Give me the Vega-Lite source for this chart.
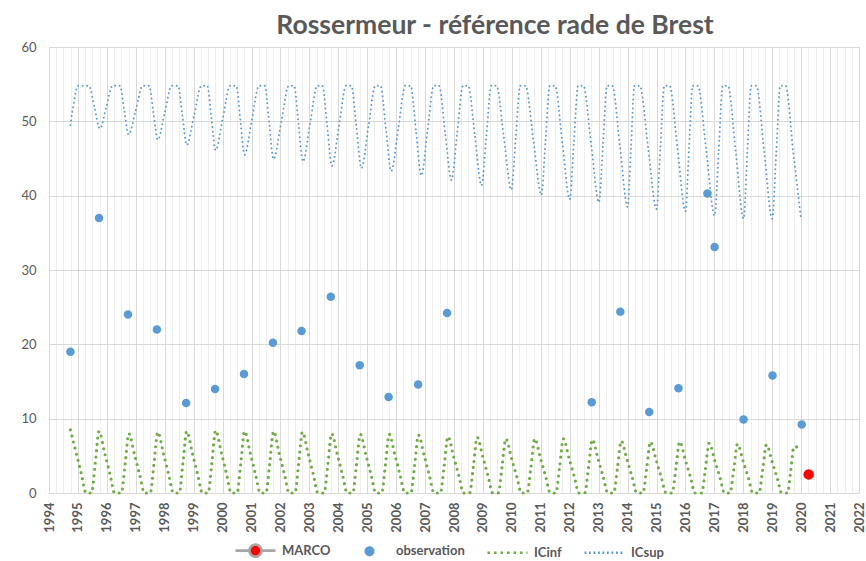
{
  "$schema": "https://vega.github.io/schema/vega-lite/v6.json",
  "width": 810,
  "height": 446,
  "autosize": {"type": "none"},
  "padding": {"left": 49, "top": 47, "right": 7, "bottom": 68},
  "background": "white",
  "config": {
    "view": {"stroke": null},
    "font": "Lato",
    "legend": {
      "title": null,
      "orient": "none",
      "legendX": 185,
      "legendY": 482,
      "direction": "horizontal",
      "columns": 4,
      "columnPadding": 17,
      "symbolSize": 1600,
      "symbolStrokeWidth": 2.6,
      "symbolOpacity": 1,
      "labelFont": "Lato",
      "labelFontSize": 13,
      "labelFontWeight": "bold",
      "labelColor": "#595959",
      "labelOffset": 5
    }
  },
  "title": {
    "text": "Rossermeur - référence rade de Brest",
    "font": "Lato",
    "fontSize": 26.5,
    "fontWeight": "bold",
    "color": "#595959",
    "anchor": "middle",
    "dx": 41,
    "dy": 28,
    "offset": 3,
    "baseline": "bottom"
  },
  "datasets": {
    "icsup": [
      {"t":1994.74,"v":49.5},{"t":1994.87,"v":52.8},{"t":1995.0,"v":54.8},{"t":1995.38,"v":54.8},{"t":1995.57,"v":51.9},{"t":1995.76,"v":49.0},{"t":1995.98,"v":51.9},
      {"t":1996.2,"v":54.8},{"t":1996.45,"v":54.8},{"t":1996.6,"v":51.5},{"t":1996.75,"v":48.2},{"t":1997.0,"v":51.5},
      {"t":1997.24,"v":54.8},{"t":1997.46,"v":54.8},{"t":1997.61,"v":51.15},{"t":1997.76,"v":47.5},{"t":1998.0,"v":51.15},
      {"t":1998.24,"v":54.8},{"t":1998.46,"v":54.8},{"t":1998.61,"v":50.8},{"t":1998.76,"v":46.8},{"t":1999.015,"v":50.8},
      {"t":1999.27,"v":54.8},{"t":1999.47,"v":54.8},{"t":1999.615,"v":50.45},{"t":1999.76,"v":46.1},{"t":2000.01,"v":50.45},
      {"t":2000.26,"v":54.8},{"t":2000.47,"v":54.8},{"t":2000.615,"v":50.15},{"t":2000.76,"v":45.5},{"t":2001.01,"v":50.15},
      {"t":2001.26,"v":54.8},{"t":2001.46,"v":54.8},{"t":2001.61,"v":49.85},{"t":2001.76,"v":44.9},{"t":2002.025,"v":49.85},
      {"t":2002.29,"v":54.8},{"t":2002.47,"v":54.8},{"t":2002.625,"v":49.7},{"t":2002.78,"v":44.6},{"t":2003.025,"v":49.7},
      {"t":2003.27,"v":54.8},{"t":2003.45,"v":54.8},{"t":2003.615,"v":49.4},{"t":2003.78,"v":44.0},{"t":2004.025,"v":49.4},
      {"t":2004.27,"v":54.8},{"t":2004.45,"v":54.8},{"t":2004.625,"v":49.25},{"t":2004.8,"v":43.7},{"t":2005.04,"v":49.25},
      {"t":2005.28,"v":54.8},{"t":2005.46,"v":54.8},{"t":2005.645,"v":49.05},{"t":2005.83,"v":43.3},{"t":2006.075,"v":49.05},
      {"t":2006.32,"v":54.8},{"t":2006.5,"v":54.8},{"t":2006.685,"v":48.75},{"t":2006.87,"v":42.7},{"t":2007.085,"v":48.75},
      {"t":2007.3,"v":54.8},{"t":2007.48,"v":54.8},{"t":2007.695,"v":48.45},{"t":2007.91,"v":42.1},{"t":2008.11,"v":48.45},
      {"t":2008.31,"v":54.8},{"t":2008.49,"v":54.8},{"t":2008.72,"v":48.1},{"t":2008.95,"v":41.4},{"t":2009.12,"v":48.1},
      {"t":2009.29,"v":54.8},{"t":2009.47,"v":54.8},{"t":2009.725,"v":47.8},{"t":2009.98,"v":40.8},{"t":2010.135,"v":47.8},
      {"t":2010.29,"v":54.8},{"t":2010.47,"v":54.8},{"t":2010.745,"v":47.45},{"t":2011.02,"v":40.1},{"t":2011.165,"v":47.45},
      {"t":2011.31,"v":54.8},{"t":2011.49,"v":54.8},{"t":2011.745,"v":47.15},{"t":2012.0,"v":39.5},{"t":2012.145,"v":47.15},
      {"t":2012.29,"v":54.8},{"t":2012.47,"v":54.8},{"t":2012.74,"v":46.95},{"t":2013.01,"v":39.1},{"t":2013.15,"v":46.95},
      {"t":2013.29,"v":54.8},{"t":2013.47,"v":54.8},{"t":2013.735,"v":46.65},{"t":2014.0,"v":38.5},{"t":2014.12,"v":46.65},
      {"t":2014.24,"v":54.8},{"t":2014.42,"v":54.8},{"t":2014.71,"v":46.5},{"t":2015.0,"v":38.2},{"t":2015.135,"v":46.5},
      {"t":2015.27,"v":54.8},{"t":2015.45,"v":54.8},{"t":2015.725,"v":46.35},{"t":2016.0,"v":37.9},{"t":2016.125,"v":46.35},
      {"t":2016.25,"v":54.8},{"t":2016.43,"v":54.8},{"t":2016.72,"v":46.05},{"t":2017.01,"v":37.3},{"t":2017.15,"v":46.05},
      {"t":2017.29,"v":54.8},{"t":2017.47,"v":54.8},{"t":2017.74,"v":45.85},{"t":2018.01,"v":36.9},{"t":2018.14,"v":45.85},
      {"t":2018.27,"v":54.8},{"t":2018.45,"v":54.8},{"t":2018.725,"v":45.85},{"t":2019.0,"v":36.9},{"t":2019.14,"v":45.85},
      {"t":2019.28,"v":54.8},{"t":2019.46,"v":54.8},{"t":2019.73,"v":45.75},{"t":2020.0,"v":36.7}
    ],
    "icinf": [
      {"t":1994.74,"v":8.5},{"t":1994.94,"v":5.4},{"t":1995.12,"v":2.55},{"t":1995.28,"v":0},{"t":1995.47,"v":0},{"t":1995.6,"v":4.0},
      {"t":1995.73,"v":8.3},{"t":1995.93,"v":5.3},{"t":1996.11,"v":2.5},{"t":1996.27,"v":0},{"t":1996.5,"v":0},{"t":1996.63,"v":3.85},
      {"t":1996.76,"v":8.0},{"t":1996.96,"v":5.1},{"t":1997.14,"v":2.4},{"t":1997.3,"v":0},{"t":1997.5,"v":0},{"t":1997.63,"v":3.95},
      {"t":1997.76,"v":8.2},{"t":1997.96,"v":5.25},{"t":1998.14,"v":2.45},{"t":1998.3,"v":0},{"t":1998.5,"v":0},{"t":1998.63,"v":4.0},
      {"t":1998.76,"v":8.3},{"t":1998.96,"v":5.3},{"t":1999.14,"v":2.5},{"t":1999.3,"v":0},{"t":1999.5,"v":0},{"t":1999.63,"v":4.05},
      {"t":1999.76,"v":8.4},{"t":1999.96,"v":5.4},{"t":2000.14,"v":2.5},{"t":2000.3,"v":0},{"t":2000.5,"v":0},{"t":2000.63,"v":4.0},
      {"t":2000.76,"v":8.3},{"t":2000.96,"v":5.3},{"t":2001.14,"v":2.5},{"t":2001.3,"v":0},{"t":2001.5,"v":0},{"t":2001.63,"v":4.0},
      {"t":2001.76,"v":8.3},{"t":2001.96,"v":5.3},{"t":2002.14,"v":2.5},{"t":2002.3,"v":0},{"t":2002.5,"v":0},{"t":2002.63,"v":3.95},
      {"t":2002.76,"v":8.2},{"t":2002.96,"v":5.25},{"t":2003.14,"v":2.45},{"t":2003.3,"v":0},{"t":2003.51,"v":0},{"t":2003.64,"v":3.85},
      {"t":2003.77,"v":8.0},{"t":2003.97,"v":5.1},{"t":2004.15,"v":2.4},{"t":2004.31,"v":0},{"t":2004.5,"v":0},{"t":2004.63,"v":3.8},
      {"t":2004.76,"v":7.9},{"t":2004.96,"v":5.05},{"t":2005.14,"v":2.35},{"t":2005.3,"v":0},{"t":2005.5,"v":0},{"t":2005.63,"v":3.8},
      {"t":2005.76,"v":7.9},{"t":2005.96,"v":5.05},{"t":2006.14,"v":2.35},{"t":2006.3,"v":0},{"t":2006.51,"v":0},{"t":2006.64,"v":3.75},
      {"t":2006.77,"v":7.8},{"t":2006.97,"v":5.0},{"t":2007.15,"v":2.35},{"t":2007.31,"v":0},{"t":2007.53,"v":0},{"t":2007.66,"v":3.65},
      {"t":2007.79,"v":7.6},{"t":2007.99,"v":4.85},{"t":2008.17,"v":2.3},{"t":2008.33,"v":0},{"t":2008.54,"v":0},{"t":2008.67,"v":3.6},
      {"t":2008.8,"v":7.5},{"t":2009.0,"v":4.8},{"t":2009.18,"v":2.25},{"t":2009.34,"v":0},{"t":2009.53,"v":0},{"t":2009.66,"v":3.5},
      {"t":2009.79,"v":7.3},{"t":2009.99,"v":4.65},{"t":2010.17,"v":2.2},{"t":2010.33,"v":0},{"t":2010.53,"v":0},{"t":2010.66,"v":3.5},
      {"t":2010.79,"v":7.3},{"t":2010.99,"v":4.65},{"t":2011.17,"v":2.2},{"t":2011.33,"v":0},{"t":2011.52,"v":0},{"t":2011.65,"v":3.5},
      {"t":2011.78,"v":7.3},{"t":2011.98,"v":4.65},{"t":2012.16,"v":2.2},{"t":2012.32,"v":0},{"t":2012.52,"v":0},{"t":2012.65,"v":3.45},
      {"t":2012.78,"v":7.2},{"t":2012.98,"v":4.6},{"t":2013.16,"v":2.15},{"t":2013.32,"v":0},{"t":2013.52,"v":0},{"t":2013.65,"v":3.35},
      {"t":2013.78,"v":7.0},{"t":2013.98,"v":4.5},{"t":2014.16,"v":2.1},{"t":2014.32,"v":0},{"t":2014.53,"v":0},{"t":2014.66,"v":3.3},
      {"t":2014.79,"v":6.9},{"t":2014.99,"v":4.4},{"t":2015.17,"v":2.05},{"t":2015.33,"v":0},{"t":2015.54,"v":0},{"t":2015.67,"v":3.3},
      {"t":2015.8,"v":6.9},{"t":2016.0,"v":4.4},{"t":2016.18,"v":2.05},{"t":2016.33,"v":0},{"t":2016.56,"v":0},{"t":2016.69,"v":3.2},
      {"t":2016.82,"v":6.7},{"t":2017.02,"v":4.3},{"t":2017.2,"v":2.0},{"t":2017.35,"v":0},{"t":2017.54,"v":0},{"t":2017.67,"v":3.15},
      {"t":2017.8,"v":6.6},{"t":2018.0,"v":4.2},{"t":2018.18,"v":2.0},{"t":2018.33,"v":0},{"t":2018.54,"v":0},{"t":2018.67,"v":3.1},
      {"t":2018.8,"v":6.5},{"t":2019.0,"v":4.15},{"t":2019.18,"v":1.95},{"t":2019.33,"v":0},{"t":2019.53,"v":0},{"t":2019.64,"v":3.0},
      {"t":2019.75,"v":6.2},{"t":2019.89,"v":6.2}
    ],
    "obs": [
      {"t":1994.74,"v":19.0},{"t":1995.73,"v":37.0},{"t":1996.73,"v":24.0},{"t":1997.73,"v":22.0},{"t":1998.74,"v":12.1},
      {"t":1999.74,"v":14.0},{"t":2000.74,"v":16.0},{"t":2001.74,"v":20.2},{"t":2002.73,"v":21.8},{"t":2003.74,"v":26.4},
      {"t":2004.74,"v":17.2},{"t":2005.74,"v":12.9},{"t":2006.76,"v":14.6},{"t":2007.76,"v":24.2},{"t":2012.76,"v":12.2},
      {"t":2013.75,"v":24.4},{"t":2014.75,"v":10.9},{"t":2015.76,"v":14.1},{"t":2016.76,"v":40.3},{"t":2017.01,"v":33.1},
      {"t":2018.01,"v":9.9},{"t":2019.01,"v":15.8},{"t":2020.02,"v":9.2}
    ],
    "marco": [
      {"t":2020.26,"v":2.5}
    ]
  },
  "encoding": {
    "x": {
      "field": "t",
      "type": "quantitative",
      "scale": {"domain": [1994, 2022], "nice": false, "zero": false},
      "axis": {
        "title": null,
        "values": [1994,1994.25,1994.5,1994.75,1995,1995.25,1995.5,1995.75,1996,1996.25,1996.5,1996.75,1997,1997.25,1997.5,1997.75,1998,1998.25,1998.5,1998.75,1999,1999.25,1999.5,1999.75,2000,2000.25,2000.5,2000.75,2001,2001.25,2001.5,2001.75,2002,2002.25,2002.5,2002.75,2003,2003.25,2003.5,2003.75,2004,2004.25,2004.5,2004.75,2005,2005.25,2005.5,2005.75,2006,2006.25,2006.5,2006.75,2007,2007.25,2007.5,2007.75,2008,2008.25,2008.5,2008.75,2009,2009.25,2009.5,2009.75,2010,2010.25,2010.5,2010.75,2011,2011.25,2011.5,2011.75,2012,2012.25,2012.5,2012.75,2013,2013.25,2013.5,2013.75,2014,2014.25,2014.5,2014.75,2015,2015.25,2015.5,2015.75,2016,2016.25,2016.5,2016.75,2017,2017.25,2017.5,2017.75,2018,2018.25,2018.5,2018.75,2019,2019.25,2019.5,2019.75,2020,2020.25,2020.5,2020.75,2021,2021.25,2021.5,2021.75,2022],
        "labelExpr": "datum.value % 1 === 0 ? format(datum.value, 'd') : ''",
        "labelOverlap": false,
        "labelFlush": false,
        "labelBound": false,
        "labelAngle": 270,
        "labelAlign": "right",
        "labelBaseline": "middle",
        "labelPadding": 9,
        "labelFont": "Lato",
        "labelFontSize": 13,
        "labelFontWeight": "bold",
        "labelColor": "#595959",
        "ticks": false,
        "domain": true,
        "domainColor": "#D9D9D9",
        "domainWidth": 1,
        "grid": true,
        "gridColor": {"condition": {"test": "datum.value % 1 === 0", "value": "#D9D9D9"}, "value": "#EEEEEE"},
        "gridWidth": 1
      }
    },
    "y": {
      "field": "v",
      "type": "quantitative",
      "scale": {"domain": [0, 60], "nice": false, "zero": true},
      "axis": {
        "title": null,
        "values": [0, 10, 20, 30, 40, 50, 60],
        "labelFont": "Lato",
        "labelFontSize": 13,
        "labelColor": "#595959",
        "labelPadding": 13,
        "ticks": false,
        "domain": false,
        "grid": true,
        "gridColor": "#D9D9D9",
        "gridWidth": 1
      }
    }
  },
  "layer": [
    {
      "data": {"name": "icsup"},
      "mark": {"type": "line", "interpolate": "monotone", "strokeWidth": 2, "strokeDash": [0, 4.5], "strokeCap": "round"},
      "encoding": {
        "stroke": {"datum": "ICsup", "type": "nominal"}
      }
    },
    {
      "data": {"name": "icinf"},
      "mark": {"type": "line", "interpolate": "monotone", "strokeWidth": 3.2, "strokeDash": [0, 6.3], "strokeCap": "round"},
      "encoding": {
        "stroke": {
          "datum": "ICinf",
          "type": "nominal",
          "scale": {
            "domain": ["MARCO", "observation", "ICinf", "ICsup"],
            "range": ["#A6A6A6", "transparent", "#70AD47", "#5B9BD5"]
          },
          "legend": {
            "symbolType": {"expr": "datum.value === 'MARCO' ? 'M-1,0L-0.3,0M0.3,0L1,0M0.3,0A0.3,0.3,0,1,1,-0.3,0A0.3,0.3,0,1,1,0.3,0Z' : datum.value === 'observation' ? 'M0.25,0A0.25,0.25,0,1,1,-0.25,0A0.25,0.25,0,1,1,0.25,0Z' : 'M-1,0L1,0'"},
            "symbolDash": {"expr": "datum.value === 'ICinf' ? [2.6, 3.9] : datum.value === 'ICsup' ? [1.8, 2.7] : [1, 0]"}
          }
        }
      }
    },
    {
      "data": {"name": "marco"},
      "mark": {"type": "circle", "size": 110, "opacity": 1},
      "encoding": {
        "fill": {"datum": "MARCO", "type": "nominal"}
      }
    },
    {
      "data": {"name": "obs"},
      "mark": {"type": "circle", "size": 72, "opacity": 1},
      "encoding": {
        "fill": {
          "datum": "observation",
          "type": "nominal",
          "scale": {
            "domain": ["MARCO", "observation", "ICinf", "ICsup"],
            "range": ["#FF0000", "#5B9BD5", "transparent", "transparent"]
          },
          "legend": {
            "symbolType": {"expr": "datum.value === 'MARCO' ? 'M-1,0L-0.3,0M0.3,0L1,0M0.3,0A0.3,0.3,0,1,1,-0.3,0A0.3,0.3,0,1,1,0.3,0Z' : datum.value === 'observation' ? 'M0.25,0A0.25,0.25,0,1,1,-0.25,0A0.25,0.25,0,1,1,0.25,0Z' : 'M-1,0L1,0'"},
            "symbolDash": {"expr": "datum.value === 'ICinf' ? [2.6, 3.9] : datum.value === 'ICsup' ? [1.8, 2.7] : [1, 0]"}
          }
        }
      }
    }
  ]
}
